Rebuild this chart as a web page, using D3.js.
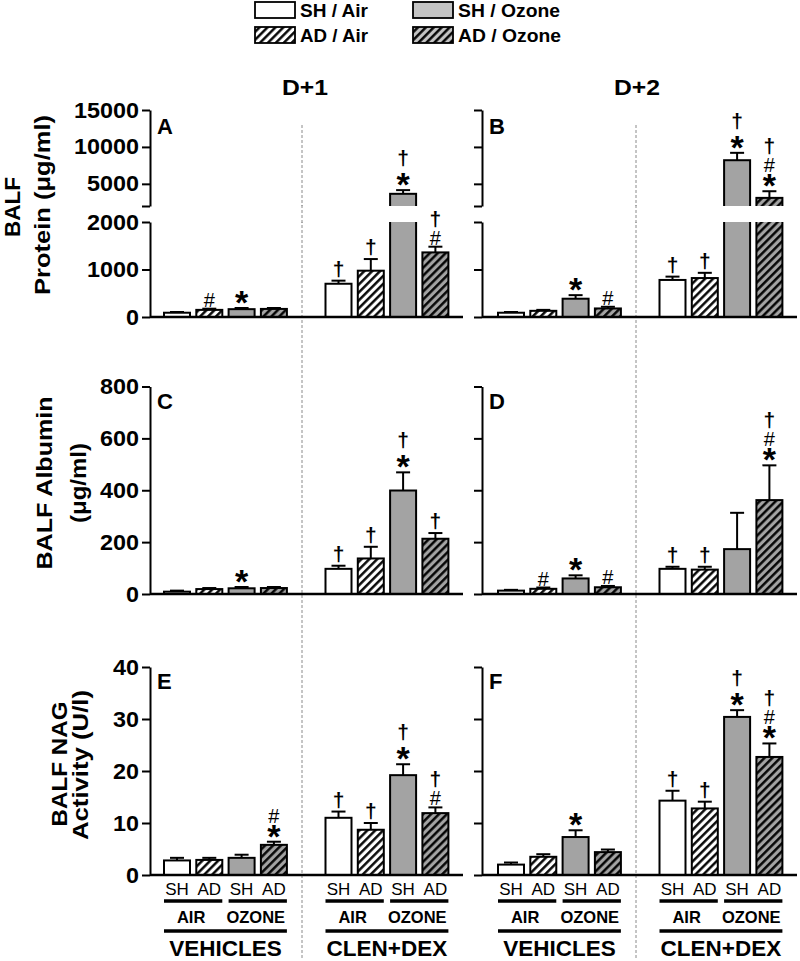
<!DOCTYPE html>
<html>
<head>
<meta charset="utf-8">
<script src="https://cdn.jsdelivr.net/npm/d3@7"></script>
<style>
  html, body { margin: 0; padding: 0; background: #fff; }
  svg { display: block; }
</style>
</head>
<body>
<script>
// ---------------- DATA ----------------
const legendLabels   = ["SH / Air", "AD / Air", "SH / Ozone", "AD / Ozone"];
const strainLabels   = ["SH", "AD", "SH", "AD", "SH", "AD", "SH", "AD"];
const exposureLabels = ["AIR", "OZONE"];
const treatmentLabels = ["VEHICLES", "CLEN+DEX"];
const dayLabels      = ["D+1", "D+2"];
const panelLetters   = ["A", "B", "C", "D", "E", "F"];

// order of bars: VEH SH/Air, VEH AD/Air, VEH SH/Oz, VEH AD/Oz, CLEN SH/Air, CLEN AD/Air, CLEN SH/Oz, CLEN AD/Oz
const proteinD1     = [90, 150, 165, 170, 700, 975, 3650, 1360];
const proteinD1Err  = [15, 25, 25, 20, 65, 245, 500, 120];
const proteinD1Sig  = ["", "#", "*", "", "†", "†", "*†", "#†"];
const proteinD2     = [90, 130, 385, 180, 780, 820, 8200, 3100];
const proteinD2Err  = [15, 20, 75, 35, 70, 110, 1000, 900];
const proteinD2Sig  = ["", "", "*", "#", "†", "†", "*†", "*#†"];

const albuminD1     = [9, 19, 22, 23, 97, 137, 399, 213];
const albuminD1Err  = [4, 4, 5, 4, 12, 45, 70, 22];
const albuminD1Sig  = ["", "", "*", "", "†", "†", "*†", "†"];
const albuminD2     = [13, 20, 60, 26, 97, 94, 173, 362];
const albuminD2Err  = [3, 5, 12, 5, 8, 11, 140, 134];
const albuminD2Sig  = ["", "#", "*", "#", "†", "†", "", "*#†"];

const nagD1     = [2.8, 2.9, 3.3, 5.8, 11.0, 8.7, 19.2, 11.9];
const nagD1Err  = [0.5, 0.4, 0.6, 0.6, 1.2, 1.3, 2.1, 1.1];
const nagD1Sig  = ["", "", "", "*#", "†", "†", "*†", "#†"];
const nagD2     = [2.0, 3.5, 7.3, 4.4, 14.3, 12.8, 30.4, 22.7];
const nagD2Err  = [0.4, 0.5, 1.3, 0.5, 1.9, 1.3, 1.3, 2.6];
const nagD2Sig  = ["", "", "*", "", "†", "†", "*†", "*#†"];

const proteinLowerTicks = [0, 1000, 2000];
const proteinUpperTicks = [2000, 5000, 10000, 15000];
const albuminTicks = [0, 200, 400, 600, 800];
const nagTicks = [0, 10, 20, 30, 40];

const yTitles = [["BALF", "Protein (μg/ml)"], ["BALF Albumin", "(μg/ml)"], ["BALF NAG", "Activity (U/l)"]];

// ---------------- LAYOUT ----------------
const W = 800, H = 961;
const FONT = "'Liberation Sans', Arial, sans-serif";
const GRAY = "#a3a3a3", LGRAY = "#c4c4c4";
const svg = d3.select("body").append("svg").attr("width", W).attr("height", H)
  .style("font-family", FONT);

// hatch patterns
const defs = svg.append("defs");
function hatch(id, bg) {
  const p = defs.append("pattern").attr("id", id).attr("patternUnits", "userSpaceOnUse")
    .attr("width", 5.6).attr("height", 5.6).attr("patternTransform", "rotate(45)");
  p.append("rect").attr("width", 5.6).attr("height", 5.6).attr("fill", bg);
  p.append("line").attr("x1", 1.3).attr("x2", 1.3).attr("y1", 0).attr("y2", 5.6)
    .attr("stroke", "#000").attr("stroke-width", 2.4);
}
hatch("hW", "#fff"); hatch("hG", GRAY); hatch("hGL", LGRAY);
const barFills = ["#fff", "url(#hW)", GRAY, "url(#hG)"];
const legendFills = ["#fff", "url(#hW)", LGRAY, "url(#hGL)"];

// legend
const legendPos = [[255, 2], [255, 27], [413, 2], [413, 27]];
const legendLen = [68, 68, 102, 103];
legendLabels.forEach((lab, i) => {
  const [lx, ly] = legendPos[i];
  svg.append("rect").attr("x", lx).attr("y", ly).attr("width", 40).attr("height", 16)
    .attr("fill", legendFills[i]).attr("stroke", "#000").attr("stroke-width", 1.8);
  svg.append("text").attr("x", lx + 45).attr("y", ly + 15).text(lab)
    .attr("font-size", 18).attr("font-weight", "bold")
    .attr("textLength", legendLen[i]).attr("lengthAdjust", "spacingAndGlyphs");
});

// columns
const cols = [
  { axisX: 150, c0: 177, end: 463, sep: 302, title: 305 },
  { axisX: 482, c0: 511, end: 797, sep: 636, title: 637 }
];
const STEP = 32.3, BW = 26;
const slots = [0, 1, 2, 3, 5, 6, 7, 8];
cols.forEach(c => { c.x = d3.scaleLinear().domain([0, 8]).range([c.c0, c.c0 + 8 * STEP]); });

dayLabels.forEach((d, ci) => {
  svg.append("text").attr("x", cols[ci].title).attr("y", 95).attr("text-anchor", "middle")
    .attr("font-size", 22).attr("font-weight", "bold").text(d)
    .attr("textLength", 46).attr("lengthAdjust", "spacingAndGlyphs");
});

const ctx = document.createElement("canvas").getContext("2d");
function glyph(ch, font) {
  ctx.font = font;
  const m = ctx.measureText(ch);
  return { asc: m.actualBoundingBoxAscent, desc: m.actualBoundingBoxDescent };
}
const symStyle = {
  "*": { size: 34, weight: "bold", gap: 4 },
  "#": { size: 20, weight: "normal", gap: 2 },
  "†": { size: 21, weight: "bold", gap: 3 }
};

function drawPanel(ci, ri, vals, errs, sigs, yFn, letter, axes, broken) {
  const c = cols[ci];
  const g = svg.append("g");
  const zero = yFn(0);
  const tops = [];
  vals.forEach((v, i) => {
    const cx = c.x(slots[i]);
    const top = yFn(v);
    const etop = yFn(v + errs[i]);
    tops.push(etop);
    g.append("line").attr("x1", cx).attr("x2", cx).attr("y1", top).attr("y2", etop)
      .attr("stroke", "#000").attr("stroke-width", 2);
    g.append("line").attr("x1", cx - 7).attr("x2", cx + 7).attr("y1", etop).attr("y2", etop)
      .attr("stroke", "#000").attr("stroke-width", 2);
    g.append("rect").attr("x", cx - BW / 2).attr("y", top).attr("width", BW).attr("height", zero - top)
      .attr("fill", barFills[i % 4]).attr("stroke", "#000").attr("stroke-width", 2);
  });
  if (broken) {
    g.append("rect").attr("x", c.axisX + 2).attr("y", 206).attr("width", c.end - c.axisX).attr("height", 16)
      .attr("fill", "#fff");
  }
  axes(g, c);
  g.append("line").attr("x1", c.axisX).attr("x2", c.end).attr("y1", zero).attr("y2", zero)
    .attr("stroke", "#000").attr("stroke-width", 2.5);
  // significance symbols: one text per bar, stacked tspans
  vals.forEach((v, i) => {
    if (!sigs[i]) return;
    const cx = c.x(slots[i]);
    const t = g.append("text").attr("text-anchor", "middle");
    let bottom = tops[i];
    let prev = null;
    for (const ch of sigs[i]) {
      const st = symStyle[ch];
      const gb = glyph(ch, `${st.weight} ${st.size}px ${FONT}`);
      let gap = st.gap;
      if (ch === "†" && prev === "*") gap = 6;
      const baseline = bottom - gap - gb.desc;
      t.append("tspan").attr("x", cx).attr("y", baseline)
        .attr("font-size", st.size).attr("font-weight", st.weight).text(ch);
      bottom = baseline - gb.asc;
      prev = ch;
    }
  });
  const ly = [134, 409, 689][ri];
  g.append("text").attr("x", c.axisX + 7).attr("y", ly).attr("font-size", 22)
    .attr("font-weight", "bold").text(letter);
}

function styleAxis(sel) {
  sel.select(".domain").attr("stroke-width", 2);
  sel.selectAll(".tick line").attr("stroke-width", 2);
  sel.selectAll(".tick text").attr("font-size", 22).attr("font-weight", "bold")
    .attr("font-family", FONT).attr("fill", "#000")
    .each(function () {
      const s = d3.select(this).text();
      if (s) d3.select(this).attr("textLength", s.length * 13).attr("lengthAdjust", "spacingAndGlyphs");
    });
}

const yLow = d3.scaleLinear().domain([0, 2000]).range([317, 222]);
const yHigh = d3.scaleLinear().domain([2000, 15000]).range([206, 110]);
const yBroken = v => (v <= 2000 ? yLow(v) : yHigh(v));

function proteinAxes(showLabels) {
  return (g, c) => {
    const fmt = v => (showLabels && v !== 2000 ? String(v) : "");
    const fmtLow = v => (showLabels ? String(v) : "");
    const a1 = g.append("g").attr("transform", `translate(${c.axisX},0)`)
      .call(d3.axisLeft(yLow).tickValues(proteinLowerTicks).tickFormat(fmtLow).tickSize(8).tickSizeOuter(0).tickPadding(3));
    const a2 = g.append("g").attr("transform", `translate(${c.axisX},0)`)
      .call(d3.axisLeft(yHigh).tickValues(proteinUpperTicks).tickFormat(fmt).tickSize(8).tickSizeOuter(0).tickPadding(3));
    styleAxis(a1); styleAxis(a2);
  };
}
function simpleAxes(scale, ticks, showLabels) {
  return (g, c) => {
    const a = g.append("g").attr("transform", `translate(${c.axisX},0)`)
      .call(d3.axisLeft(scale).tickValues(ticks).tickFormat(v => (showLabels ? String(v) : ""))
        .tickSize(8).tickSizeOuter(0).tickPadding(3));
    styleAxis(a);
  };
}

const yAlb = d3.scaleLinear().domain([0, 800]).range([594, 386.5]);
const yNag = d3.scaleLinear().domain([0, 40]).range([875, 667]);

// dashed separators (behind panels)
cols.forEach(c => {
  svg.append("line").attr("x1", c.sep).attr("x2", c.sep).attr("y1", 125).attr("y2", 960)
    .attr("stroke", "#8a8a8a").attr("stroke-width", 1).attr("stroke-dasharray", "3,2");
});

drawPanel(0, 0, proteinD1, proteinD1Err, proteinD1Sig, yBroken, panelLetters[0], proteinAxes(true), true);
drawPanel(1, 0, proteinD2, proteinD2Err, proteinD2Sig, yBroken, panelLetters[1], proteinAxes(false), true);
drawPanel(0, 1, albuminD1, albuminD1Err, albuminD1Sig, yAlb, panelLetters[2], simpleAxes(yAlb, albuminTicks, true), false);
drawPanel(1, 1, albuminD2, albuminD2Err, albuminD2Sig, yAlb, panelLetters[3], simpleAxes(yAlb, albuminTicks, false), false);
drawPanel(0, 2, nagD1, nagD1Err, nagD1Sig, yNag, panelLetters[4], simpleAxes(yNag, nagTicks, true), false);
drawPanel(1, 2, nagD2, nagD2Err, nagD2Sig, yNag, panelLetters[5], simpleAxes(yNag, nagTicks, false), false);

// redraw separator segment through the break gap
cols.forEach(c => {
  svg.append("line").attr("x1", c.sep).attr("x2", c.sep).attr("y1", 205).attr("y2", 223)
    .attr("stroke", "#8a8a8a").attr("stroke-width", 1).attr("stroke-dasharray", "3,2");
});

// y titles
const titlePos = [
  [[20, 207], [50, 205]],
  [[52, 483], [86, 483]],
  [[67, 764], [88, 765]]
];
const titleLen = [[60, 180], [173, 80], [125, 150]];
yTitles.forEach((lines, ri) => {
  lines.forEach((t, li) => {
    const [tx, ty] = titlePos[ri][li];
    svg.append("text").attr("transform", `translate(${tx},${ty}) rotate(-90)`)
      .attr("text-anchor", "middle").attr("font-size", 22).attr("font-weight", "bold").text(t)
      .attr("textLength", titleLen[ri][li]).attr("lengthAdjust", "spacingAndGlyphs");
  });
});

// bottom category labels
cols.forEach(c => {
  strainLabels.forEach((s, i) => {
    svg.append("text").attr("x", c.x(slots[i])).attr("y", 895).attr("text-anchor", "middle")
      .attr("font-size", 17).text(s);
  });
  for (let t = 0; t < 2; t++) {
    const base = t * 4;
    for (let e = 0; e < 2; e++) {
      const i0 = base + e * 2;
      const x1 = c.x(slots[i0]) - BW / 2, x2 = c.x(slots[i0 + 1]) + BW / 2;
      svg.append("line").attr("x1", x1).attr("x2", x2).attr("y1", 901).attr("y2", 901)
        .attr("stroke", "#000").attr("stroke-width", 3.5);
      svg.append("text").attr("x", (x1 + x2) / 2 - 2).attr("y", 923).attr("text-anchor", "middle")
        .attr("font-size", 16.5).attr("font-weight", "bold").text(exposureLabels[e]);
    }
    const X1 = c.x(slots[base]) - BW / 2, X2 = c.x(slots[base + 3]) + BW / 2;
    svg.append("line").attr("x1", X1).attr("x2", X2).attr("y1", 931).attr("y2", 931)
      .attr("stroke", "#000").attr("stroke-width", 3.5);
    svg.append("text").attr("x", (X1 + X2) / 2).attr("y", 956).attr("text-anchor", "middle")
      .attr("font-size", 22.5).attr("font-weight", "bold").text(treatmentLabels[t]);
  }
});
</script>
</body>
</html>
